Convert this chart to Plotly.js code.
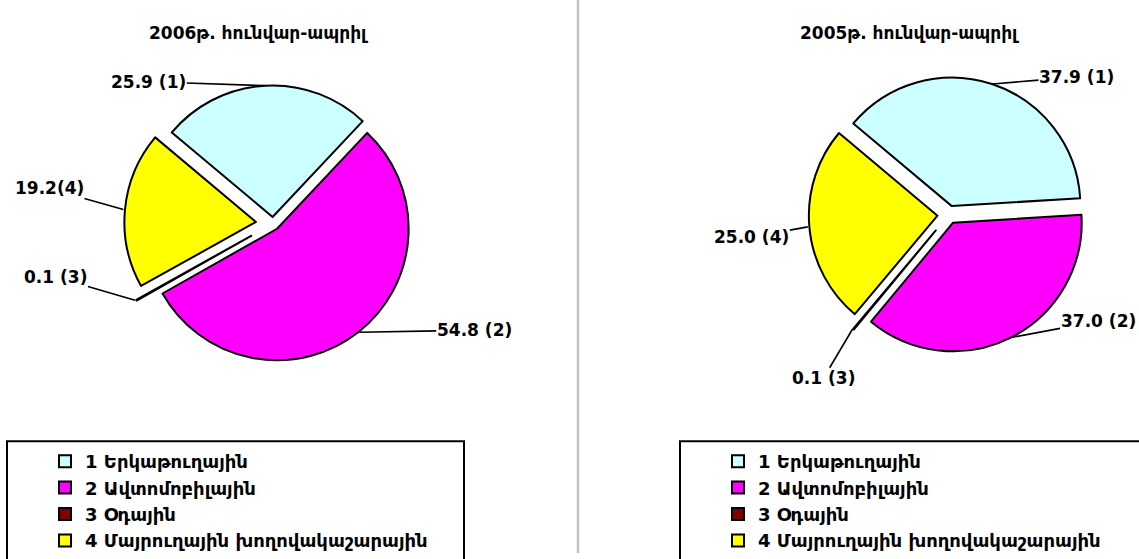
<!DOCTYPE html>
<html>
<head>
<meta charset="utf-8">
<script src="https://cdn.plot.ly/plotly-3.0.1.min.js"></script>
<style>html,body{margin:0;padding:0;background:#fff;}#chart{width:1139px;height:559px;}</style>
</head>
<body>
<div id="chart"></div>
<script>
// ---- data ----
const categories = ['1 Երկաթուղային', '2 Ավտոմոբիլային', '3 Օդային', '4 Մայրուղային խողովակաշարային'];
const values2006 = [25.9, 54.8, 0.1, 19.2];
const values2005 = [37.9, 37.0, 0.1, 25.0];
const labels2006 = ['25.9 (1)', '54.8 (2)', '0.1 (3)', '19.2(4)'];
const labels2005 = ['37.9 (1)', '37.0 (2)', '0.1 (3)', '25.0 (4)'];
const titles = ['2006թ. հունվար-ապրիլ', '2005թ. հունվար-ապրիլ'];
const colors = ['#CCFFFF', '#FF00FF', '#800000', '#FFFF00'];

// ---- layout / style ----
const W = 1139, H = 559;
const FONT = '"DejaVu Sans", Arial, sans-serif';
const rotation = -50;
const pies = [
  {values: values2006, labels: labels2006, cx: 273, cy: 226, r: 133, pull: [0.05, 0.05, 0.19, 0.13],
   legend: 'legend', group: 'g2006', titleX: 258,
   offsets: [[-116, -4], [115, -2], [-79, -23], [-74, -21]]},
  {values: values2005, labels: labels2005, cx: 949, cy: 217, r: 130, pull: [0.07, 0.07, 0.16, 0.09],
   legend: 'legend2', group: 'g2005', titleX: 909,
   offsets: [[84, -7], [86, -16], [-29, 49], [-56, 10]]}
];

const traces = [];
const annotations = [];
pies.forEach((p, k) => {
  const maxPull = Math.max(...p.pull);
  const half = p.r * (1 + maxPull);
  traces.push({
    type: 'pie',
    labels: categories,
    values: p.values,
    sort: false,
    direction: 'clockwise',
    rotation: rotation,
    pull: p.pull,
    marker: {colors: colors, line: {color: '#000', width: 2}},
    textinfo: 'none',
    hoverinfo: 'label+value',
    legend: p.legend,
    legendgroup: p.group,
    showlegend: true,
    domain: {
      x: [(p.cx - half) / W, (p.cx + half) / W],
      y: [1 - (p.cy + half) / H, 1 - (p.cy - half) / H]
    }
  });
  // label anchors from the data (mid-angle of each slice, on its pulled arc)
  const total = p.values.reduce((a, b) => a + b, 0);
  let acc = 0;
  p.values.forEach((v, i) => {
    const mid = (rotation + 360 * (acc + v / 2) / total) * Math.PI / 180;
    acc += v;
    const d = p.r * (1 + p.pull[i]);
    const px = p.cx + d * Math.sin(mid);
    const py = p.cy - d * Math.cos(mid);
    annotations.push({
      xref: 'paper', yref: 'paper', x: px / W, y: 1 - py / H,
      text: '<b>' + p.labels[i] + '</b>',
      showarrow: true, arrowhead: 0, arrowwidth: 1.6, arrowcolor: '#000',
      ax: p.offsets[i][0], ay: p.offsets[i][1], standoff: 0, borderpad: 0,
      font: {family: FONT, size: 17, color: '#000'}
    });
  });
  annotations.push({
    xref: 'paper', yref: 'paper', x: p.titleX / W, y: 1 - 33 / H,
    xanchor: 'center', yanchor: 'middle', showarrow: false,
    text: '<b>' + titles[k] + '</b>', font: {family: FONT, size: 17, color: '#000'}
  });
});

const legendStyle = (x) => ({
  x: x / W, xanchor: 'left', y: 1 - 448 / H, yanchor: 'top',
  bgcolor: 'rgba(0,0,0,0)', borderwidth: 0, tracegroupgap: 0,
  font: {family: FONT, size: 18, color: '#000', weight: 'bold'}
});

const layout = {
  width: W, height: H,
  margin: {l: 0, r: 0, t: 0, b: 0},
  paper_bgcolor: '#fff',
  showlegend: true,
  legend: legendStyle(45),
  legend2: legendStyle(718),
  annotations: annotations,
  shapes: [
    {type: 'line', xref: 'paper', yref: 'paper', x0: 578 / W, x1: 578 / W, y0: 0, y1: 1,
     line: {color: '#c0c0c0', width: 2.5}},
    {type: 'rect', xref: 'paper', yref: 'paper', x0: 7 / W, x1: 464 / W, y0: -0.05, y1: 1 - 446 / H,
     line: {color: '#000', width: 2}},
    {type: 'rect', xref: 'paper', yref: 'paper', x0: 680 / W, x1: 1150 / W, y0: -0.05, y1: 1 - 446 / H,
     line: {color: '#000', width: 2}}
  ]
};

Plotly.newPlot('chart', traces, layout, {displayModeBar: false, staticPlot: true});
</script>
</body>
</html>
